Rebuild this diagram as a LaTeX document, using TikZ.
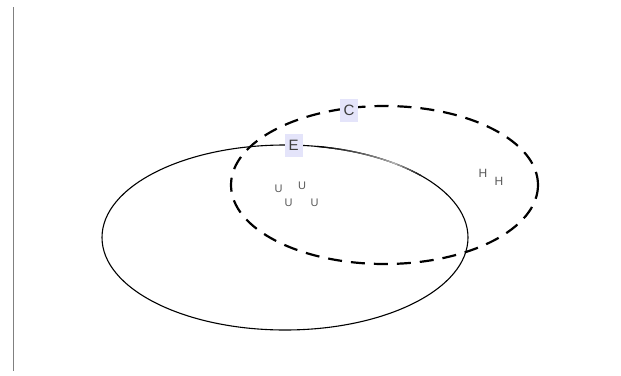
\documentclass[tikz,border=0pt]{standalone}
\usepackage{fontspec}
\usetikzlibrary{calc}
\setmainfont{Liberation Sans}
\definecolor{lav}{RGB}{228,228,250}
\definecolor{txt}{RGB}{60,60,60}
\tikzset{
  lbl/.style={fill=lav, text=txt, font=\fontsize{15}{15}\selectfont, inner xsep=4pt, inner ysep=0pt, minimum height=23pt},
  elem/.style={text=txt!85, inner sep=0pt},
  solidset/.style={draw=black, line width=1.1pt},
  dashset/.style={draw=black, line width=2.2pt, dash pattern=on 14pt off 9pt}
}
\begin{document}
\begin{tikzpicture}[x=1pt,y=-1pt]
\useasboundingbox (0,0) rectangle (621,375);
\coordinate (vt) at (13,7);
\coordinate (vb) at (13,371);
\draw[gray, line width=1pt] (vt) -- (vb);
% solid ellipse E
\coordinate (ec) at (285,237.5);
\draw[solidset] (ec) ellipse [x radius=183, y radius=92.5];
% fading part of the stroke
\foreach \a in {-80,-78,...,-54} {
  \pgfmathsetmacro{\sh}{(\a+80)/26*70}
  \draw[white!\sh!black, line width=1.3pt] ($(ec)+(\a:183 and 92.5)$) arc[start angle=\a, end angle=\a+2.2, x radius=183, y radius=92.5];
}
\foreach \a in {-52,-50,...,-42} {
  \pgfmathsetmacro{\sh}{(-40-\a)/12*70}
  \draw[white!\sh!black, line width=1.3pt] ($(ec)+(\a:183 and 92.5)$) arc[start angle=\a, end angle=\a-2.2, x radius=183, y radius=92.5];
}
% dashed ellipse C
\coordinate (cc) at (384.5,185);
\draw[dashset] (cc) ellipse [x radius=153.5, y radius=79];
% labels
\node[lbl] (C) at (349,110.5) {C};
\node[lbl] (E) at (293.5,145.5) {E};
% elements
\node[elem, font=\fontsize{11}{11}\selectfont] (u1) at (278.5,189) {U};
\node[elem, font=\fontsize{11}{11}\selectfont] (u2) at (302,186) {U};
\node[elem, font=\fontsize{11}{11}\selectfont] (u3) at (288.5,203) {U};
\node[elem, font=\fontsize{11}{11}\selectfont] (u4) at (314.5,203) {U};
\node[elem, font=\fontsize{12}{12}\selectfont] (h1) at (483,173) {H};
\node[elem, font=\fontsize{12}{12}\selectfont] (h2) at (499,181) {H};
\end{tikzpicture}
\end{document}
